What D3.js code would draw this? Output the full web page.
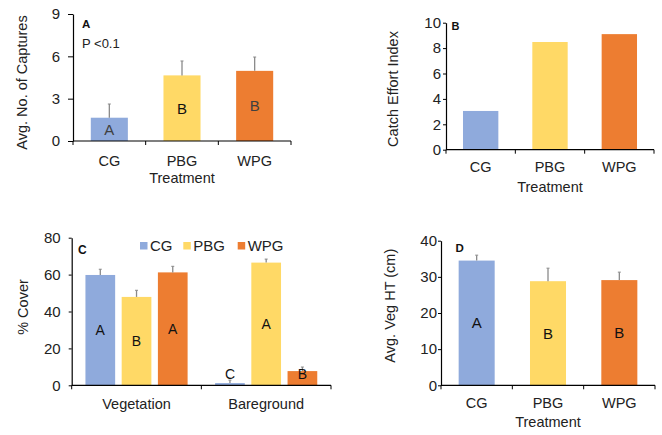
<!DOCTYPE html>
<html><head><meta charset="utf-8">
<script src="https://cdn.jsdelivr.net/npm/d3@7"></script>
<style>body{margin:0;background:#fff}svg{display:block}text{font-family:"Liberation Sans",Arial,sans-serif}</style>
</head><body>
<svg id="c" width="662" height="435"></svg>
<script>
// ---------- data ----------
const treatments = ["CG", "PBG", "WPG"];
const capturesMean = [1.65, 4.65, 4.97];
const capturesErr = [0.97, 1.02, 0.98];
const capturesLetters = ["A", "B", "B"];
const catchEffort = [3.05, 8.48, 9.1];
const coverGroups = ["Vegetation", "Bareground"];
const coverCG = [59.8, 1.2];
const coverPBG = [47.9, 66.5];
const coverWPG = [61.2, 7.7];
const coverErrCG = [3.1, 1.6];
const coverErrPBG = [3.6, 1.9];
const coverErrWPG = [3.3, 2.2];
const coverLettersCG = ["A", "C"];
const coverLettersPBG = ["B", "A"];
const coverLettersWPG = ["A", "B"];
const vegHeight = [34.5, 28.8, 29.1];
const vegHeightErr = [1.5, 3.6, 2.2];
const vegLetters = ["A", "B", "B"];
const ticksA = [0, 3, 6, 9];
const ticksB = [0, 2, 4, 6, 8, 10];
const ticksC = [0, 20, 40, 60, 80];
const ticksD = [0, 10, 20, 30, 40];

const colors = {CG: "#8faadc", PBG: "#ffd966", WPG: "#ed7d31"};
const svg = d3.select("#c");
const CAL = "Lato, 'Open Sans', sans-serif";

function yAxis(g, y, ticks, size, pad) {
  const ax = d3.axisLeft(y).tickValues(ticks).tickSize(size).tickPadding(pad).tickSizeOuter(0);
  g.call(ax);
  g.select(".domain").attr("stroke", "#000").attr("stroke-width", 1.2);
  g.selectAll(".tick line").attr("stroke", "#000");
  g.selectAll(".tick text").attr("font-size", 15).attr("fill", "#222").attr("font-family", "Liberation Sans, Arial");
}
function xAxis(g, x, tickPos, y0) {
  const [a, b] = x.range();
  g.append("line").attr("x1", a).attr("x2", b).attr("y1", y0).attr("y2", y0).attr("stroke", "#000").attr("stroke-width", 1.2);
  g.selectAll(".xt").data(tickPos).join("line").attr("x1", d => d).attr("x2", d => d)
    .attr("y1", y0).attr("y2", y0 + 4).attr("stroke", "#000");
}
function errBars(g, xs, tops, errs, y, w) {
  xs.forEach((cx, i) => {
    const yt = y(tops[i] + errs[i]), yb = y(tops[i]);
    g.append("line").attr("x1", cx).attr("x2", cx).attr("y1", yt).attr("y2", yb).attr("stroke", "#8a8a8a").attr("stroke-width", 1.3);
    g.append("line").attr("x1", cx - w).attr("x2", cx + w).attr("y1", yt).attr("y2", yt).attr("stroke", "#8a8a8a").attr("stroke-width", 1);
  });
}
function rotTitle(x, y, text) {
  svg.append("text").attr("transform", `translate(${x},${y}) rotate(-90)`).attr("text-anchor", "middle")
    .attr("dy", "0.36em").attr("font-size", 14.5).attr("fill", "#222").text(text);
}

// ---------- Panel A ----------
{
  const g = svg.append("g");
  const x = d3.scaleBand().domain(treatments).range([73, 291]).paddingInner(0.49).paddingOuter(0.245);
  const y = d3.scaleLinear().domain([0, 9]).range([141, 14]);
  g.selectAll("rect").data(treatments).join("rect")
    .attr("x", d => x(d)).attr("width", x.bandwidth())
    .attr("y", (d, i) => y(capturesMean[i])).attr("height", (d, i) => y(0) - y(capturesMean[i]))
    .attr("fill", d => colors[d]);
  errBars(g, treatments.map(d => x(d) + x.bandwidth() / 2), capturesMean, capturesErr, y, 1.5);
  yAxis(g.append("g").attr("transform", "translate(73,0)"), y, ticksA, 5, 8);
  const step = x.step();
  xAxis(g, d3.scaleLinear().range([73, 291]), [73, 73 + step, 73 + 2 * step, 291], 141);
  g.selectAll(".lab").data(treatments).join("text").attr("x", d => x(d) + x.bandwidth() / 2).attr("y", 165.7)
    .attr("text-anchor", "middle").attr("font-size", 14.5).attr("fill", "#222").text(d => d);
  g.append("text").attr("x", 182).attr("y", 183.3).attr("text-anchor", "middle").attr("font-size", 14.5).attr("fill", "#222").text("Treatment");
  g.selectAll(".let").data(treatments).join("text").attr("x", d => x(d) + x.bandwidth() / 2)
    .attr("y", (d, i) => y(capturesMean[i] / 2)).attr("dy", "0.36em").attr("text-anchor", "middle")
    .attr("font-size", 15).attr("fill", d => d === "PBG" ? "#111" : "#404040").text((d, i) => capturesLetters[i]);
  g.append("text").attr("x", 82).attr("y", 28).attr("font-family", CAL).attr("font-weight", "bold").attr("font-size", 11.5).attr("fill", "#111").text("A");
  g.append("text").attr("x", 82).attr("y", 47.5).attr("font-family", CAL).attr("font-size", 13).attr("fill", "#222").text("P <0.1");
  rotTitle(21.5, 82.5, "Avg. No. of Captures");
}

// ---------- Panel B ----------
{
  const g = svg.append("g");
  const x = d3.scaleBand().domain(treatments).range([446, 654]).paddingInner(0.49).paddingOuter(0.245);
  const y = d3.scaleLinear().domain([0, 10]).range([149.7, 22.7]);
  g.selectAll("rect").data(treatments).join("rect")
    .attr("x", d => x(d)).attr("width", x.bandwidth())
    .attr("y", (d, i) => y(catchEffort[i])).attr("height", (d, i) => y(0) - y(catchEffort[i]))
    .attr("fill", d => colors[d]);
  yAxis(g.append("g").attr("transform", "translate(446,0)"), y, ticksB, 3, 2);
  const step = x.step();
  xAxis(g, d3.scaleLinear().range([446, 654]), [446, 446 + step, 446 + 2 * step, 654], 149.7);
  g.selectAll(".lab").data(treatments).join("text").attr("x", d => x(d) + x.bandwidth() / 2).attr("y", 172)
    .attr("text-anchor", "middle").attr("font-size", 14.5).attr("fill", "#222").text(d => d);
  g.append("text").attr("x", 550).attr("y", 191.5).attr("text-anchor", "middle").attr("font-size", 14.5).attr("fill", "#222").text("Treatment");
  g.append("text").attr("x", 451.5).attr("y", 29.5).attr("font-family", CAL).attr("font-weight", "bold").attr("font-size", 11).attr("fill", "#111").text("B");
  rotTitle(393, 89, "Catch Effort Index");
}

// ---------- Panel C ----------
{
  const g = svg.append("g");
  const series = [
    {key: "CG", vals: coverCG, errs: coverErrCG, lets: coverLettersCG},
    {key: "PBG", vals: coverPBG, errs: coverErrPBG, lets: coverLettersPBG},
    {key: "WPG", vals: coverWPG, errs: coverErrWPG, lets: coverLettersWPG}
  ];
  const x0 = d3.scaleBand().domain(coverGroups).range([71.7, 331]).paddingInner(0.212).paddingOuter(0.106);
  const x1 = d3.scaleBand().domain(treatments).range([0, x0.bandwidth()]).paddingInner(0.18);
  const y = d3.scaleLinear().domain([0, 80]).range([385.3, 237.7]);
  series.forEach(s => {
    const cx = coverGroups.map(gr => x0(gr) + x1(s.key) + x1.bandwidth() / 2);
    g.selectAll(".r" + s.key).data(coverGroups).join("rect")
      .attr("x", gr => x0(gr) + x1(s.key)).attr("width", x1.bandwidth())
      .attr("y", (gr, i) => y(s.vals[i])).attr("height", (gr, i) => y(0) - y(s.vals[i]))
      .attr("fill", colors[s.key]);
    errBars(g, cx, s.vals, s.errs, y, 1.5);
    g.selectAll(".l" + s.key).data(coverGroups).join("text")
      .attr("x", (gr, i) => cx[i]).attr("y", (gr, i) => y(Math.max(s.vals[i] / 2, 6))).attr("dy", "0.36em")
      .attr("text-anchor", "middle").attr("font-family", CAL).attr("font-size", 14).attr("fill", "#111")
      .text((gr, i) => s.lets[i]);
  });
  yAxis(g.append("g").attr("transform", "translate(71.7,0)"), y, ticksC, 3, 8);
  xAxis(g, d3.scaleLinear().range([71.7, 331]), [71.7, (71.7 + 331) / 2, 331], 385.3);
  g.selectAll(".lab").data(coverGroups).join("text").attr("x", d => x0(d) + x0.bandwidth() / 2).attr("y", 409)
    .attr("text-anchor", "middle").attr("font-size", 14.5).attr("fill", "#222").text(d => d);
  // legend
  const lx = {CG: 140, PBG: 183.3, WPG: 237.7};
  treatments.forEach(t => {
    g.append("rect").attr("x", lx[t]).attr("y", 242).attr("width", 7.5).attr("height", 7.5).attr("fill", colors[t]);
    g.append("text").attr("x", lx[t] + 10).attr("y", 251).attr("font-size", 15).attr("fill", "#222").text(t);
  });
  g.append("text").attr("x", 78).attr("y", 254).attr("font-family", CAL).attr("font-weight", "bold").attr("font-size", 12).attr("fill", "#111").text("C");
  rotTitle(23, 307, "% Cover");
}

// ---------- Panel D ----------
{
  const g = svg.append("g");
  const x = d3.scaleBand().domain(treatments).range([441, 655]).paddingInner(0.495).paddingOuter(0.2475);
  const y = d3.scaleLinear().domain([0, 40]).range([385.3, 240.7]);
  g.selectAll("rect").data(treatments).join("rect")
    .attr("x", d => x(d)).attr("width", x.bandwidth())
    .attr("y", (d, i) => y(vegHeight[i])).attr("height", (d, i) => y(0) - y(vegHeight[i]))
    .attr("fill", d => colors[d]);
  errBars(g, treatments.map(d => x(d) + x.bandwidth() / 2), vegHeight, vegHeightErr, y, 1.5);
  yAxis(g.append("g").attr("transform", "translate(441,0)"), y, ticksD, 3, 1);
  const step = x.step();
  xAxis(g, d3.scaleLinear().range([441, 655]), [441, 441 + step, 441 + 2 * step, 655], 385.3);
  g.selectAll(".lab").data(treatments).join("text").attr("x", d => x(d) + x.bandwidth() / 2).attr("y", 408.3)
    .attr("text-anchor", "middle").attr("font-size", 14.5).attr("fill", "#222").text(d => d);
  g.append("text").attr("x", 548).attr("y", 427.3).attr("text-anchor", "middle").attr("font-size", 14.5).attr("fill", "#222").text("Treatment");
  g.selectAll(".let").data(treatments).join("text").attr("x", d => x(d) + x.bandwidth() / 2)
    .attr("y", (d, i) => y(vegHeight[i] / 2)).attr("dy", "0.36em").attr("text-anchor", "middle")
    .attr("font-size", 15).attr("fill", "#111").text((d, i) => vegLetters[i]);
  g.append("text").attr("x", 455.5).attr("y", 252.3).attr("font-family", CAL).attr("font-weight", "bold").attr("font-size", 11.5).attr("fill", "#111").text("D");
  rotTitle(390, 305.7, "Avg. Veg HT (cm)");
}
</script>
</body></html>
